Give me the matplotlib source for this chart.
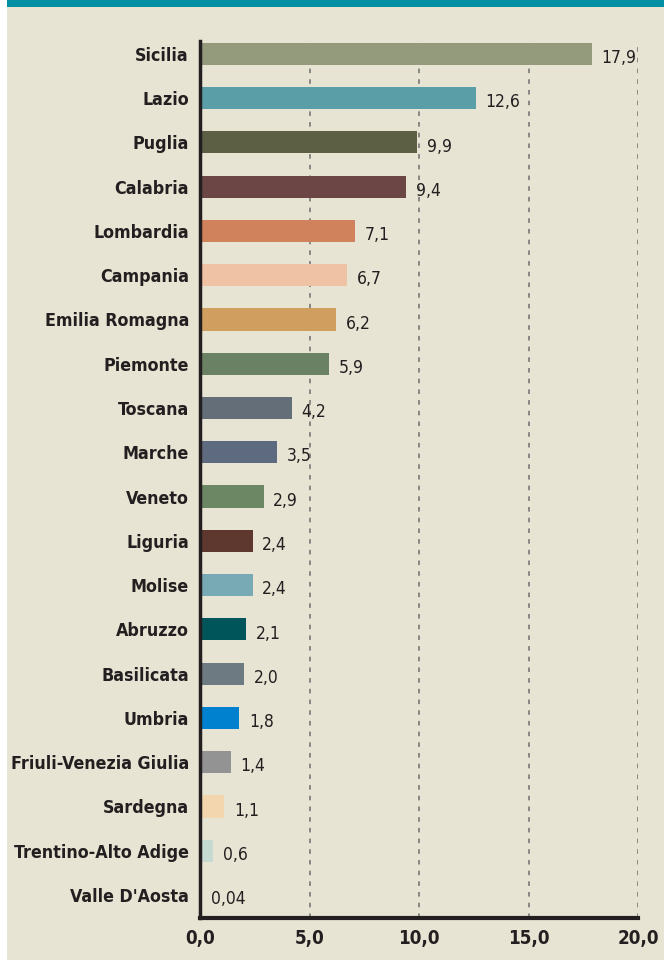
import matplotlib
matplotlib.use("Agg")
import matplotlib.pyplot as plt
from matplotlib.patches import Rectangle
from matplotlib import font_manager

# data
regions = ['Sicilia', 'Lazio', 'Puglia', 'Calabria', 'Lombardia', 'Campania',
           'Emilia Romagna', 'Piemonte', 'Toscana', 'Marche', 'Veneto', 'Liguria',
           'Molise', 'Abruzzo', 'Basilicata', 'Umbria', 'Friuli-Venezia Giulia',
           'Sardegna', 'Trentino-Alto Adige', "Valle D'Aosta"]
values = [17.9, 12.6, 9.9, 9.4, 7.1, 6.7, 6.2, 5.9, 4.2, 3.5, 2.9, 2.4,
          2.4, 2.1, 2.0, 1.8, 1.4, 1.1, 0.6, 0.04]
labels = ['17,9', '12,6', '9,9', '9,4', '7,1', '6,7', '6,2', '5,9', '4,2', '3,5',
          '2,9', '2,4', '2,4', '2,1', '2,0', '1,8', '1,4', '1,1', '0,6', '0,04']
colors = ['#939B7C', '#5A9FA8', '#5C5F44', '#6B4645', '#D0825D', '#EFC2A6',
          '#D09E5E', '#6A8163', '#636E78', '#5E6A80', '#6B8764', '#5E382E',
          '#78AAB6', '#00555A', '#6E7A82', '#0081CF', '#939393', '#F3D6AE',
          '#C5DAD1', '#C5DAD1']
xticks = [0, 5, 10, 15, 20]
xticklabels = ['0,0', '5,0', '10,0', '15,0', '20,0']

# pick a condensed face if one is installed
names = {f.name for f in font_manager.fontManager.ttflist}
fam = ['DejaVu Sans']
for cand in ['Liberation Sans Narrow', 'DejaVu Sans Condensed']:
    if cand in names:
        fam = [cand, 'DejaVu Sans']
        break
plt.rcParams['font.family'] = fam
plt.rcParams['font.stretch'] = 'condensed'

bg = '#E8E4D3'
fig = plt.figure(figsize=(6.64, 9.6), dpi=100)
fig.patch.set_facecolor('white')
# beige panel and teal top band
fig.patches.append(Rectangle((7 / 664, 0), 1, 1, transform=fig.transFigure,
                             facecolor=bg, edgecolor='none', zorder=-2))
fig.patches.append(Rectangle((7 / 664, 1 - 7 / 960), 1, 7 / 960,
                             transform=fig.transFigure, facecolor='#008FA3',
                             edgecolor='none', zorder=-1))

ax = fig.add_axes([200 / 664, 1 - 918 / 960, 438 / 664, (918 - 41) / 960])
ax.set_facecolor('none')

ypos = list(range(len(regions)))
ax.barh(ypos, values, height=0.5, color=colors, zorder=2)

for y, v, lab in zip(ypos, values, labels):
    ax.annotate(lab, (v, y), xytext=(7, -3), textcoords='offset points',
                ha='left', va='center', fontsize=12.5, color='#231F20')

ax.set_xlim(0, 20)
ax.set_ylim(19.52, -0.29)
ax.set_yticks(ypos)
ax.set_yticklabels(regions, fontsize=12.8, fontweight='bold', color='#231F20')
ax.set_xticks(xticks)
ax.set_xticklabels(xticklabels, fontsize=13.5, fontweight='bold', color='#231F20')
ax.tick_params(axis='y', length=0, pad=8)
ax.tick_params(axis='x', length=0, pad=8)

for x in xticks[1:]:
    ax.axvline(x, color='#6E6E6E', linestyle=(0, (3, 4)), linewidth=1.1, zorder=1)

for s in ['top', 'right']:
    ax.spines[s].set_visible(False)
ax.spines['left'].set_linewidth(2.5)
ax.spines['bottom'].set_linewidth(3)
ax.spines['left'].set_color('#231F20')
ax.spines['bottom'].set_color('#231F20')

fig.savefig('out.png', dpi=100, facecolor=fig.get_facecolor())
